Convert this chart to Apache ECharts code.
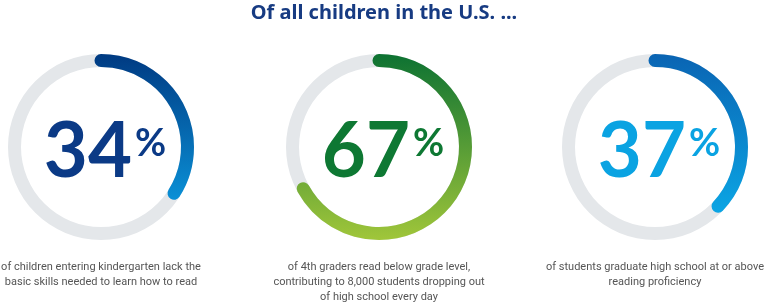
<!DOCTYPE html>
<html>
<head>
<meta charset="utf-8">
<script src="https://cdn.jsdelivr.net/npm/echarts@6/dist/echarts.min.js"></script>
<style>
html,body{margin:0;padding:0;background:#fff;}
#chart{width:768px;height:302px;}
</style>
</head>
<body>
<div id="chart"></div>
<script>
const titleText = 'Of all children in the U.S. ...';
const categories = ['Kindergarten', '4th grade', 'High school'];
const values = [34, 67, 37];
const descriptions = [
  'of children entering kindergarten lack the\nbasic skills needed to learn how to read',
  'of 4th graders read below grade level,\ncontributing to 8,000 students dropping out\nof high school every day',
  'of students graduate high school at or above\nreading proficiency'
];

const centersX = [101, 379, 655];
const centerY = 147;
const radius = 93;
const gradients = [['#003A82', '#0A90D6'], ['#0D7232', '#A0C63A'], ['#0A64B3', '#0BA5E4']];
const numberColors = ['#0B3A86', '#0E7833', '#0AA3E2'];

const chart = echarts.init(document.getElementById('chart'), null, {renderer: 'canvas'});

const series = values.map((v, i) => ({
  type: 'gauge',
  name: categories[i],
  center: [centersX[i], centerY],
  radius: radius,
  startAngle: 90,
  endAngle: -270,
  min: 0,
  max: 100,
  pointer: {show: false},
  axisTick: {show: false},
  splitLine: {show: false},
  axisLabel: {show: false},
  anchor: {show: false},
  title: {show: false},
  axisLine: {lineStyle: {width: 13, color: [[1, '#E4E7EA']]}},
  progress: {
    show: true,
    width: 13,
    roundCap: true,
    itemStyle: {
      color: new echarts.graphic.LinearGradient(0, 0, 0, 1, [
        {offset: 0, color: gradients[i][0]},
        {offset: 1, color: gradients[i][1]}
      ])
    }
  },
  detail: {
    valueAnimation: false,
    offsetCenter: [4, 5],
    formatter: '{n|{value}}{p|%}',
    rich: {
      n: {fontFamily: 'Lato', fontWeight: 'bold', fontSize: 76, color: numberColors[i], lineHeight: 80},
      p: {fontFamily: 'Lato', fontWeight: 'bold', fontSize: 38, color: numberColors[i], padding: [0, 0, 16, 3]}
    }
  },
  data: [{value: v, name: categories[i]}]
}));

const graphics = descriptions.map((d, i) => ({
  type: 'text',
  x: centersX[i],
  y: 260,
  style: {
    text: d,
    align: 'center',
    verticalAlign: 'top',
    fontFamily: 'Roboto',
    fontSize: 11,
    lineHeight: 15,
    fill: '#555555'
  }
}));

chart.setOption({
  animation: false,
  title: {
    text: titleText,
    left: 'center',
    top: -2,
    textStyle: {fontFamily: 'Noto Sans', fontWeight: 'bold', fontSize: 20, color: '#173B82'}
  },
  graphic: graphics,
  series: series
});
</script>
</body>
</html>
